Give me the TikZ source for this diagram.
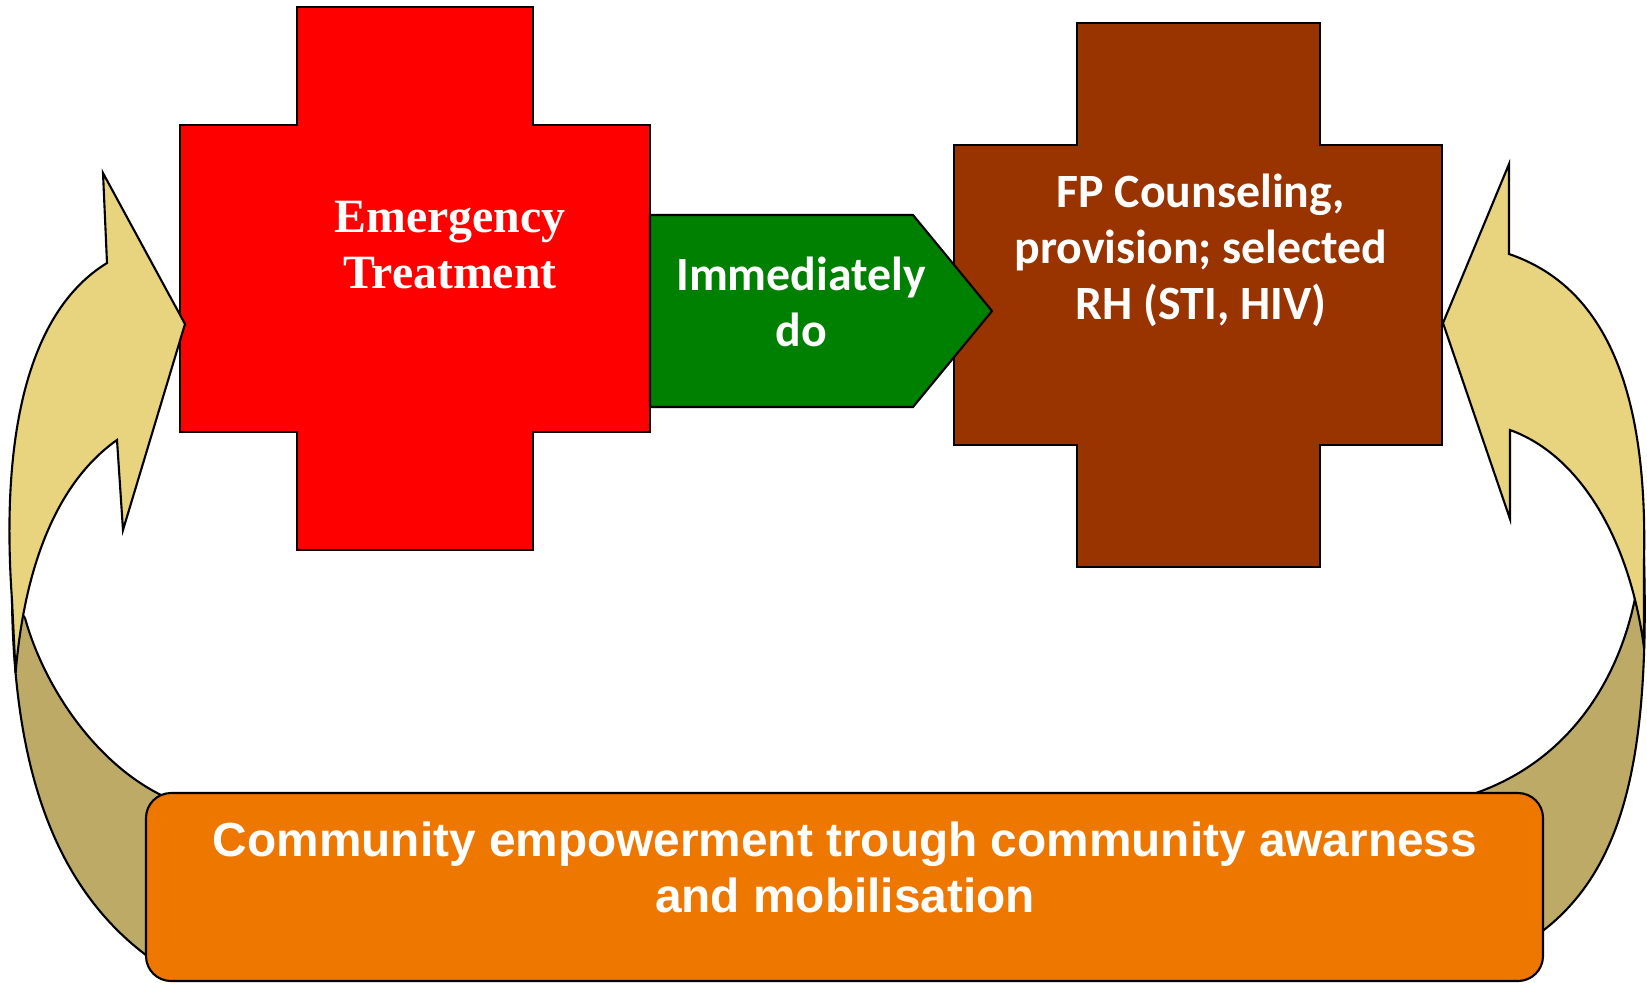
\documentclass[tikz,border=0pt]{standalone}
\usepackage{fontspec}
\setmainfont{Liberation Serif}
\newfontfamily\calibrifont{Carlito}
\newfontfamily\arialfont{Liberation Sans}
\definecolor{crossred}{HTML}{FF0000}
\definecolor{crossbrown}{HTML}{993300}
\definecolor{arrowgreen}{HTML}{008000}
\definecolor{boxorange}{HTML}{EE7700}
\definecolor{tanlight}{HTML}{E8D37E}
\definecolor{tandark}{HTML}{BCAA66}
\tikzset{
	outline/.style={draw=black,line width=0.6pt},
	serifbold/.style={text=white,align=center,inner sep=0pt,font=\bfseries\fontsize{13.6}{15.9}\selectfont},
	calibribold/.style={text=white,align=center,inner sep=0pt,font=\calibrifont\bfseries\fontsize{13.6}{15.9}\selectfont},
	arialbold/.style={text=white,align=center,inner sep=0pt,font=\arialfont\bfseries\fontsize{13.6}{15.9}\selectfont}
}
\newcommand{\Cross}[9]{
	% #1 colour, #2-#5 x edges, #6-#9 y edges
	\filldraw[outline,fill=#1](#3,#6)--(#4,#6)--(#4,#7)--(#5,#7)--(#5,#8)--(#4,#8)
		--(#4,#9)--(#3,#9)--(#3,#8)--(#2,#8)--(#2,#7)--(#3,#7)--cycle;
}
\begin{document}
\begin{tikzpicture}[x=0.1mm,y=-0.1mm]
	\useasboundingbox (0,0) rectangle (1647,982);
	%crosses
	\Cross{crossred}{180}{297}{533}{650}{7}{125}{432}{550}
	\Cross{crossbrown}{954}{1077}{1320}{1442}{23}{145}{445}{567}
	%middle arrow
	\filldraw[outline,fill=arrowgreen](650,215)--(913,215)--(992,311)--(913,407)--(650,407)--cycle;
	%left band, back
	\filldraw[outline,fill=tandark](12,600) .. controls (14,770) and (55,895) .. (160,965)
		--(172,800) .. controls (100,770) and (45,690) .. (25,618)--cycle;
	%left band, front
	\filldraw[outline,fill=tanlight](15.6,673)--(12,600) .. controls (0,430) and (30,310) .. (107,263)
		--(103,173)--(185,324)--(123,530)--(117,440) .. controls (60,480) and (25,560) .. (15.6,673)--cycle;
	%right band, back
	\filldraw[outline,fill=tandark](1644,560) .. controls (1650,770) and (1620,880) .. (1530,940)
		--(1460,798) .. controls (1560,770) and (1615,690) .. (1634,603)--cycle;
	%right band, front
	\filldraw[outline,fill=tanlight](1644,648)--(1644,560) .. controls (1648,380) and (1600,285) .. (1509,254)
		--(1509,164)--(1443,323)--(1510,519)--(1510,430) .. controls (1580,455) and (1630,540) .. (1644,648)--cycle;
	%bottom box
	\filldraw[outline,fill=boxorange,rounded corners=2.5mm](146,793) rectangle (1543,981);
	%texts
	\node[serifbold] (emergency) at (450,245) {Emergency\\Treatment};
	\node[calibribold] (immediately) at (801,302) {Immediately\\do};
	\node[calibribold] (counseling) at (1201,250) {FP Counseling,\\provision; selected\\RH (STI, HIV)};
	\node[arialbold] (community) at (845,867) {Community empowerment trough community awarness\\and mobilisation};
\end{tikzpicture}
\end{document}
